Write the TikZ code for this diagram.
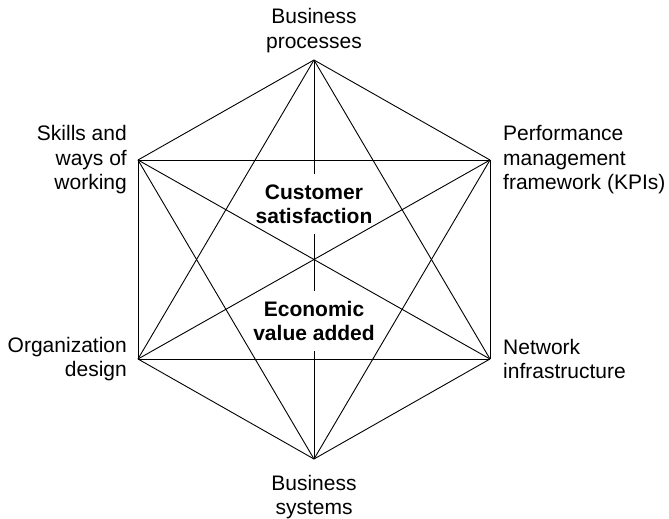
\documentclass[tikz,border=0pt]{standalone}
\usepackage{fontspec}
\setmainfont{Liberation Sans}
\usetikzlibrary{positioning}
\begin{document}
\begin{tikzpicture}[
    x=1pt, y=-1pt,
    edge/.style={line width=0.9pt},
    lbl/.style={
        inner sep=0pt,
        font=\fontsize{21}{24.5}\selectfont
    },
    core/.style={
        inner xsep=0pt,
        inner ysep=10pt,
        align=center,
        font=\fontsize{21}{24}\selectfont\bfseries
    }
]
\useasboundingbox (0,0) rectangle (669,519);
%==========================
% Corners
%==========================
\coordinate (bp) at (314,60);
\coordinate (sw) at (138,160);
\coordinate (pm) at (490,160);
\coordinate (od) at (138,359);
\coordinate (ni) at (490,359);
\coordinate (bs) at (314,459);

\node[lbl, align=center, above=7pt of bp] (bp-t) {Business\\processes};
\node[lbl, align=right, left=11pt of sw]  (sw-t) {Skills and\\ways of\\working};
\node[lbl, align=left, right=13pt of pm]  (pm-t) {Performance\\management\\framework (KPIs)};
\node[lbl, align=right, left=11pt of od]  (od-t) {Organization\\design};
\node[lbl, align=left, right=13pt of ni]  (ni-t) {Network\\infrastructure};
\node[lbl, align=center, below=16pt of bs] (bs-t) {Business\\systems};

%==========================
% Centre
%==========================
\node[core] (cs) at (314,204) {Customer\\satisfaction};
\node[core] (ev) at (314,321) {Economic\\value added};

%==========================
% Links
%==========================
\draw[edge] (bp) -- (sw);
\draw[edge] (bp) -- (pm);
\draw[edge] (bp) -- (od);
\draw[edge] (bp) -- (ni);
\draw[edge] (sw) -- (pm);
\draw[edge] (sw) -- (od);
\draw[edge] (sw) -- (ni);
\draw[edge] (sw) -- (bs);
\draw[edge] (pm) -- (od);
\draw[edge] (pm) -- (ni);
\draw[edge] (pm) -- (bs);
\draw[edge] (od) -- (ni);
\draw[edge] (od) -- (bs);
\draw[edge] (ni) -- (bs);

\draw[edge] (bp) -- (cs.north);
\draw[edge] (cs.south) -- (ev.north);
\draw[edge] (ev.south) -- (bs);

\end{tikzpicture}
\end{document}
